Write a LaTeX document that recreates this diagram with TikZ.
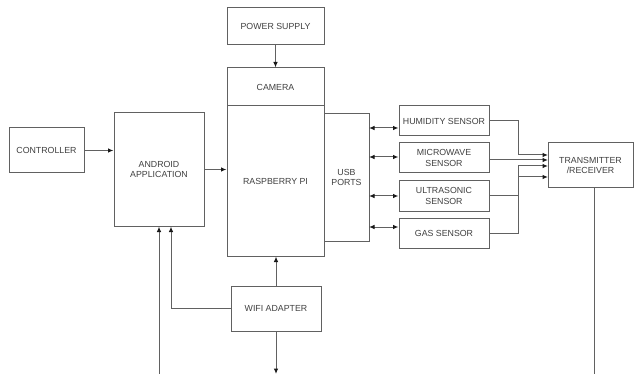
\documentclass[tikz,border=0pt]{standalone}
\usepackage{fontspec}
\setmainfont{Liberation Sans}
\usetikzlibrary{arrows.meta,calc}
\begin{document}
\begin{tikzpicture}[x=1pt,y=-1pt,
  box/.style={draw=black!62,line width=1pt,fill=white,inner sep=0pt,align=center,
    font=\fontsize{8.8}{10.5}\selectfont,text=black!75},
  conn/.style={draw=black!62,line width=1pt},
  arr/.style={conn,-{Latex[length=5.5pt,width=4.5pt,color=black!90]}},
  darr/.style={conn,{Latex[length=5.5pt,width=4.5pt,color=black!90]}-{Latex[length=5.5pt,width=4.5pt,color=black!90]}}]
\useasboundingbox[fill=white] (0,0) rectangle (634,374);
% nodes
\node[box,minimum width=75pt,minimum height=45pt] (ctrl) at (46.5,150.5) {CONTROLLER};
\node[box,minimum width=90pt,minimum height=113pt] (android) at (159,169.5) {ANDROID\\APPLICATION};
\node[box,minimum width=97pt,minimum height=37pt] (power) at (275.5,26.5) {POWER SUPPLY};
\node[box,minimum width=97pt,minimum height=38pt] (camera) at (275.5,87) {CAMERA};
\node[box,minimum width=97pt,minimum height=150pt] (rpi) at (275.5,181) {RASPBERRY PI};
\node[box,minimum width=45pt,minimum height=127pt] (usb) at (346.5,177.5) {USB\\PORTS};
\node[box,minimum width=90pt,minimum height=30pt] (hum) at (444,121) {HUMIDITY SENSOR};
\node[box,minimum width=90pt,minimum height=30pt] (mic) at (444,158) {MICROWAVE\\SENSOR};
\node[box,minimum width=90pt,minimum height=30pt] (ult) at (444,196) {ULTRASONIC\\SENSOR};
\node[box,minimum width=90pt,minimum height=30pt] (gas) at (444,233) {GAS SENSOR};
\node[box,minimum width=85pt,minimum height=45pt] (tx) at (590.5,165.5) {TRANSMITTER\\/RECEIVER};
\node[box,minimum width=90pt,minimum height=45pt] (wifi) at (276,308.5) {WIFI ADAPTER};
% helper coordinates
\coordinate (bot) at (0,374);
\coordinate (bx) at (518,0);
\coordinate (ax) at (171,0);
\coordinate (txx) at (594,0);
\coordinate (t1) at (548,155);
\coordinate (t2) at (548,160);
\coordinate (t3) at (548,166);
\coordinate (t4) at (548,177);
\coordinate (u1) at (369,128);
\coordinate (u2) at (369,157);
\coordinate (u3) at (369,196);
\coordinate (u4) at (369,227);
% connectors
\draw[arr] (ctrl.east) -- (android.west |- ctrl.east);
\draw[arr] (android.east) -- (rpi.west |- android.east);
\draw[arr] (power.south) -- (camera.north);
\draw[darr] (u1) -- (hum.west |- u1);
\draw[darr] (u2) -- (mic.west |- u2);
\draw[darr] (u3) -- (ult.west |- u3);
\draw[darr] (u4) -- (gas.west |- u4);
\draw[arr] (hum.east) -| (bx |- t1) -- (t1);
\draw[arr] (mic.east |- t2) -- (t2);
\draw[arr] (ult.east) -| (bx |- t4) -- (t4);
\draw[arr] (gas.east) -| (bx |- t3) -- (t3);
\draw[conn] (txx |- tx.south) -- (txx |- bot);
\draw[arr] (wifi.north) -- (wifi.north |- rpi.south);
\draw[arr] (wifi.south) -- (wifi.south |- bot);
\draw[arr] (wifi.west) -| (ax |- android.south);
\draw[arr] (android.south |- bot) -- (android.south);
\end{tikzpicture}
\end{document}
